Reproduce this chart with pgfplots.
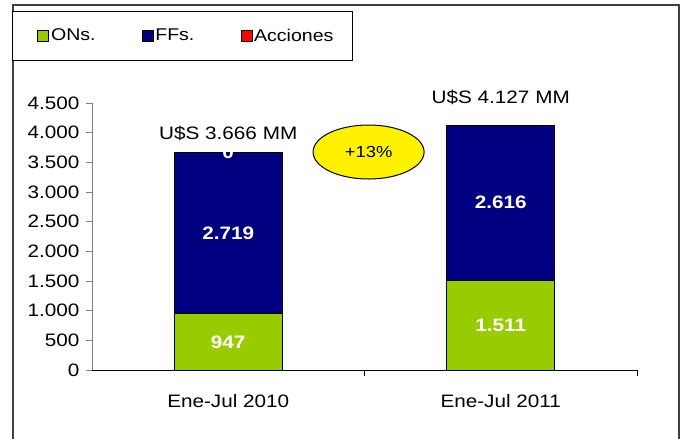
\documentclass[border=0pt]{standalone}
\usepackage{fontspec}
\setmainfont{Liberation Sans}[FakeStretch=1.15]
\usepackage{pgfplots}
\pgfplotsset{compat=1.18}
\definecolor{onsgreen}{HTML}{99CC00}
\definecolor{ffsnavy}{HTML}{000080}
\definecolor{accred}{HTML}{FF0000}
\definecolor{framegray}{HTML}{404040}
\pgfplotsset{/pgf/number format/.cd, 1000 sep={.}, assume math mode=true}

\begin{document}
\begin{tikzpicture}[x=1pt,y=1pt,font=\fontsize{18}{21}\selectfont]
\useasboundingbox (0,0) rectangle (681,439);
\draw[framegray, line width=1.5pt] (13,-2) -- (13,434) -- (679,434) -- (679,-2);
\begin{axis}[
  at={(92pt,69pt)}, anchor=south west,
  scale only axis, width=545pt, height=267pt,
  ybar stacked, bar width=108pt,
  xmin=-0.5, xmax=1.5, ymin=0, ymax=4500,
  clip=false,
  axis x line*=bottom, axis y line*=left,
  x axis line style={draw=black, line width=0.8pt},
  y axis line style={draw=gray, line width=0.8pt},
  xtick={0,1}, xticklabels={Ene-Jul 2010, Ene-Jul 2011},
  every major x tick/.append style={draw=none},
  minor xtick={0.5,1.5},
  every minor x tick/.append style={draw=black, line width=0.8pt},
  minor tick length=6pt, major tick length=6pt,
  tick align=outside,
  ytick={0,500,...,4500},
  every major y tick/.append style={draw=gray, line width=0.8pt},
  yticklabel style={xshift=-3pt},
  xticklabel style={yshift=-15pt},
  legend columns=3,
  legend style={at={(-0.1468,1.3446)}, anchor=north west,
    draw=black, line width=0.8pt,
    font=\fontsize{17}{19}\selectfont,
    inner xsep=17pt, inner ysep=15.5pt,
    /tikz/every even column/.append style={column sep=36pt},
    cells={anchor=west}},
  legend image code/.code={\path (0pt,0pt);
    \draw[#1,draw=black,line width=0.6pt] (8pt,-5.5pt) rectangle (19pt,5.5pt);},
  point meta=rawy,
  nodes near coords,
  nodes near coords style={text=white, font=\bfseries\fontsize{18}{21}\selectfont,
    anchor=center},
]
\addplot[fill=onsgreen, draw=black, line width=0.8pt] coordinates {(0,947) (1,1511)};
\addplot[fill=ffsnavy, draw=black, line width=0.8pt] coordinates {(0,2719) (1,2616)};
\addplot[fill=accred, draw=black, line width=0.8pt] coordinates {(0,0)};
\legend{ONs., FFs., Acciones}
\coordinate (acc) at (axis cs:0,3666);
\node at (axis cs:0,3994) {U\$S 3.666 MM};
\node at (axis cs:1,4601) {U\$S 4.127 MM};
\draw[fill=yellow, draw=black, line width=1pt] (axis cs:0.515,3674)
  ellipse [x radius=55.5pt, y radius=27pt]
  node[font=\fontsize{16}{19}\selectfont, text=black] {+13\%};
\end{axis}
\node[text=white, font=\bfseries\fontsize{18}{21}\selectfont] at (acc) {0};
\end{tikzpicture}
\end{document}
